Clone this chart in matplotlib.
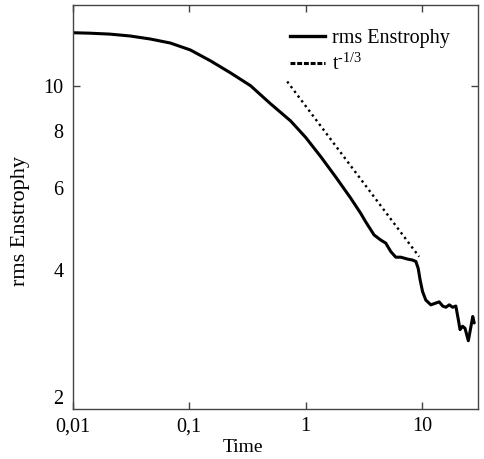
import matplotlib
matplotlib.use("Agg")
import matplotlib.pyplot as plt
from matplotlib.lines import Line2D
from matplotlib.ticker import FixedLocator, FixedFormatter, NullLocator

plt.rcParams['font.family'] = ['Liberation Serif', 'DejaVu Serif']
plt.rcParams['mathtext.fontset'] = 'custom'
plt.rcParams['mathtext.rm'] = 'Liberation Serif'
plt.rcParams['mathtext.it'] = 'Liberation Serif:italic'

# rms enstrophy vs time
time = [0.01, 0.0140, 0.0208, 0.0310, 0.0461, 0.0686, 0.102, 0.152, 0.226,
        0.336, 0.499, 0.743, 1.00, 1.35, 1.81, 2.44, 2.98, 3.29, 3.88, 4.43,
        4.89, 5.41, 5.97, 6.59, 7.53, 8.31, 8.88, 9.30, 9.67, 10.14, 10.82,
        11.96, 13.2, 14.1, 15.1, 16.1, 17.2, 18.4, 19.6, 20.6, 21.3, 22.4,
        23.5, 25.1, 26.4, 27.4, 28.2]
enstrophy = [13.03, 13.00, 12.94, 12.82, 12.63, 12.38, 11.96, 11.33, 10.67,
             10.01, 9.15, 8.40, 7.74, 7.03, 6.36, 5.72, 5.30, 5.08, 4.76, 4.64,
             4.57, 4.38, 4.26, 4.26, 4.22, 4.20, 4.17, 4.03, 3.80, 3.59, 3.44,
             3.36, 3.39, 3.41, 3.34, 3.32, 3.36, 3.32, 3.34, 3.12, 2.97, 3.02,
             2.99, 2.81, 3.01, 3.17, 3.07]

# reference power-law line t^-1/3 (endpoints)
fit_time = [0.695, 9.48]
fit_value = [10.22, 4.27]

x_ticks = [0.01, 0.1, 1, 10]
x_labels = ['0,01', '0,1', '1', '10']
y_ticks = [2, 4, 6, 8, 10]
y_labels = ['2', '4', '6', '8', '10']

fig = plt.figure(figsize=(4.84, 4.59), dpi=100)
ax = fig.add_axes([73/484, 1-409/459, 405/484, 404/459])

ax.plot(time, enstrophy, color='black', lw=2.2, solid_joinstyle='round',
        solid_capstyle='round')
ax.plot(fit_time, fit_value, color='black', lw=1.7, linestyle=(0, (1, 1.5)),
        dash_capstyle='butt')

ax.set_xscale('log')
ax.set_yscale('log')
ax.set_xlim(0.01, 30.4)
ax.set_ylim(2, 14.96)

ax.xaxis.set_major_locator(FixedLocator(x_ticks))
ax.xaxis.set_major_formatter(FixedFormatter(x_labels))
ax.xaxis.set_minor_locator(NullLocator())
ax.yaxis.set_major_locator(FixedLocator(y_ticks))
ax.yaxis.set_major_formatter(FixedFormatter(y_labels))
ax.yaxis.set_minor_locator(NullLocator())

spine_col = '#444444'
for s in ax.spines.values():
    s.set_color(spine_col)
    s.set_linewidth(1.0)

ax.tick_params(axis='both', which='major', direction='in', length=5.3, width=1.0,
               color=spine_col, labelsize=14.5, top=True, right=True)
ax.tick_params(axis='y', pad=7)
ax.tick_params(axis='x', pad=6)

# only the decade y tick (10) has a visible tick mark
for val, t in zip(y_ticks, ax.yaxis.get_major_ticks()):
    if val != 10:
        t.tick1line.set_markersize(0)
        t.tick2line.set_markersize(0)
    if val == 2:
        t.label1.set_verticalalignment('bottom')

ax.set_xlabel('Time', fontsize=14)
ax.set_ylabel('rms Enstrophy', fontsize=16)
ax.xaxis.set_label_coords(0.42, -0.075)
ax.yaxis.set_label_coords(-0.105, 0.465)

handles = [Line2D([], [], color='black', lw=2.4),
           Line2D([], [], color='black', lw=2.2, linestyle=(0, (1.6, 0.6)))]
labels = ['rms Enstrophy', r'$\mathrm{t}^{\text{-1/3}}$']
ax.legend(handles, labels, loc='upper left', bbox_to_anchor=(0.536, 0.94),
          frameon=False, fontsize=14.5, handlelength=1.75, handletextpad=0.35,
          borderpad=0, borderaxespad=0, labelspacing=0.25)

fig.savefig('out.png', dpi=100)
